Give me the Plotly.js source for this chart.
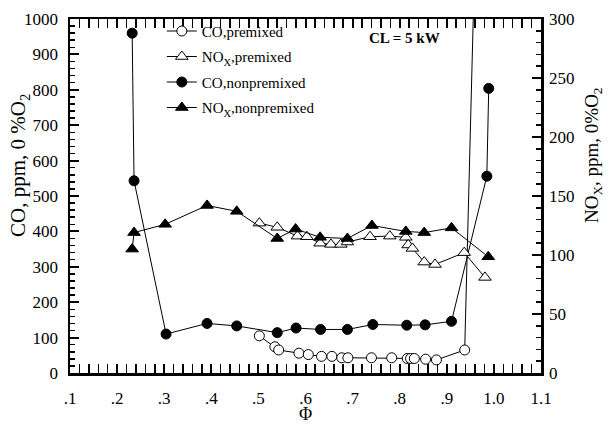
<!DOCTYPE html>
<html>
<head>
<meta charset="utf-8">
<script src="https://cdn.plot.ly/plotly-3.0.1.min.js"></script>
<style>html,body{margin:0;padding:0;background:#fff;}#chart{width:609px;height:424px;}</style>
</head>
<body>
<div id="chart"></div>
<script>
// ---- data ----
const phiCOpre = [0.502, 0.535, 0.543, 0.586, 0.606, 0.634, 0.656, 0.677, 0.690, 0.740, 0.783, 0.816, 0.823, 0.831, 0.855, 0.878, 0.938, 0.960];
const coPre    = [105, 74, 65, 56, 52, 47, 47, 43, 43, 43, 43, 41, 41, 41, 39, 37, 65, 1200];

const phiNOxPre = [0.502, 0.540, 0.583, 0.603, 0.631, 0.654, 0.675, 0.689, 0.737, 0.779, 0.813, 0.818, 0.827, 0.852, 0.875, 0.937, 0.981];
const noxPre    = [127, 123.5, 116, 115.5, 110, 109, 109, 111, 115.5, 116, 115, 108.5, 105.6, 94, 92, 102, 81];

const phiCOnon = [0.232, 0.236, 0.304, 0.391, 0.454, 0.540, 0.580, 0.632, 0.689, 0.743, 0.815, 0.854, 0.910, 0.985, 0.989];
const coNon    = [960, 543, 110, 140, 133, 114, 127, 123, 123, 137, 135, 136, 146, 556, 804];

const phiNOxNon = [0.232, 0.236, 0.302, 0.391, 0.454, 0.540, 0.579, 0.631, 0.689, 0.741, 0.813, 0.852, 0.910, 0.988];
const noxNon    = [105, 119, 126, 142, 137, 114, 122, 115, 114, 125, 120, 119, 123, 98.5];

const xTickVals = [0.1, 0.2, 0.3, 0.4, 0.5, 0.6, 0.7, 0.8, 0.9, 1.0, 1.1];
const xTickText = ['.1', '.2', '.3', '.4', '.5', '.6', '.7', '.8', '.9', '1.0', '1.1'];

const names = ['CO,premixed', 'NO<sub>X</sub>,premixed', 'CO,nonpremixed', 'NO<sub>X</sub>,nonpremixed'];
const yTitleLeft = 'CO, ppm, 0 %O<sub>2</sub>';
const yTitleRight = 'NO<sub>X</sub>, ppm, 0%O<sub>2</sub>';
const xTitle = 'Φ';
const note = '<b>CL = 5 kW</b>';

// ---- chart ----
const F = 'Liberation Serif, Times New Roman, serif';
const ln = {color: '#000', width: 1};
const traces = [
  {x: phiCOpre, y: coPre, name: names[0], mode: 'lines+markers', yaxis: 'y', legendgroup: 'a',
   line: ln, marker: {symbol: 'circle', size: 10, color: '#fff', line: {color: '#000', width: 1}}},
  {x: phiNOxPre, y: noxPre, name: names[1], mode: 'lines+markers', yaxis: 'y2', legendgroup: 'b',
   line: ln, marker: {symbol: 'triangle-up', size: 11, color: '#fff', line: {color: '#000', width: 1}}},
  {x: phiCOnon, y: coNon, name: names[2], mode: 'lines+markers', yaxis: 'y', legendgroup: 'c',
   line: ln, marker: {symbol: 'circle', size: 10, color: '#000', line: {color: '#000', width: 1}}},
  {x: phiNOxNon, y: noxNon, name: names[3], mode: 'lines+markers', yaxis: 'y2', legendgroup: 'd',
   line: ln, marker: {symbol: 'triangle-up', size: 11, color: '#000', line: {color: '#000', width: 1}}}
];

const layout = {
  width: 609, height: 424,
  margin: {l: 70, r: 68, t: 19, b: 51, pad: 0},
  paper_bgcolor: '#fff', plot_bgcolor: '#fff',
  font: {family: F, size: 17, color: '#000'},
  showlegend: true,
  legend: {x: 0.195, y: 1.012, xanchor: 'left', yanchor: 'top', bgcolor: 'rgba(0,0,0,0)',
           font: {family: F, size: 15, color: '#000'}, traceorder: 'grouped', tracegroupgap: 3},
  xaxis: {range: [0.1, 1.1], tickvals: xTickVals, ticktext: xTickText,
          showgrid: false, zeroline: false, showline: true, linecolor: '#000', linewidth: 2.5,
          mirror: 'allticks', ticks: 'inside', ticklen: 9, tickwidth: 2, tickcolor: '#000',
          minor: {dtick: 0.02, ticks: 'inside', ticklen: 5, tickwidth: 1.5, tickcolor: '#000', showgrid: false},
          ticklabelstandoff: 8,
          title: {text: xTitle, font: {family: F, size: 18}, standoff: 13}},
  yaxis: {range: [0, 1000], dtick: 100, showgrid: false, zeroline: false, showline: true,
          linecolor: '#000', linewidth: 2.5, ticks: 'inside', ticklen: 9, tickwidth: 2, tickcolor: '#000',
          minor: {dtick: 20, ticks: 'inside', ticklen: 5, tickwidth: 1.5, tickcolor: '#000', showgrid: false},
          ticklabelstandoff: 6},
  yaxis2: {range: [0, 300], dtick: 50, overlaying: 'y', side: 'right', showgrid: false, zeroline: false,
           showline: true, linecolor: '#000', linewidth: 2.5, ticks: 'inside', ticklen: 9, tickwidth: 2, tickcolor: '#000',
           minor: {dtick: 10, ticks: 'inside', ticklen: 5, tickwidth: 1.5, tickcolor: '#000', showgrid: false},
           ticklabelstandoff: 2},
  annotations: [
    {xref: 'paper', yref: 'paper', x: 0.63, y: 0.945, xanchor: 'left', yanchor: 'middle', showarrow: false,
     text: note, font: {family: F, size: 15, color: '#000'}},
    {xref: 'paper', yref: 'paper', x: -0.108, y: 0.585, xanchor: 'center', yanchor: 'middle', showarrow: false,
     textangle: -90, text: yTitleLeft, font: {family: F, size: 21, color: '#000'}},
    {xref: 'paper', yref: 'paper', x: 1.112, y: 0.615, xanchor: 'center', yanchor: 'middle', showarrow: false,
     textangle: -90, text: yTitleRight, font: {family: F, size: 19, color: '#000'}}
  ]
};

Plotly.newPlot('chart', traces, layout, {displayModeBar: false, staticPlot: true});
</script>
</body>
</html>
